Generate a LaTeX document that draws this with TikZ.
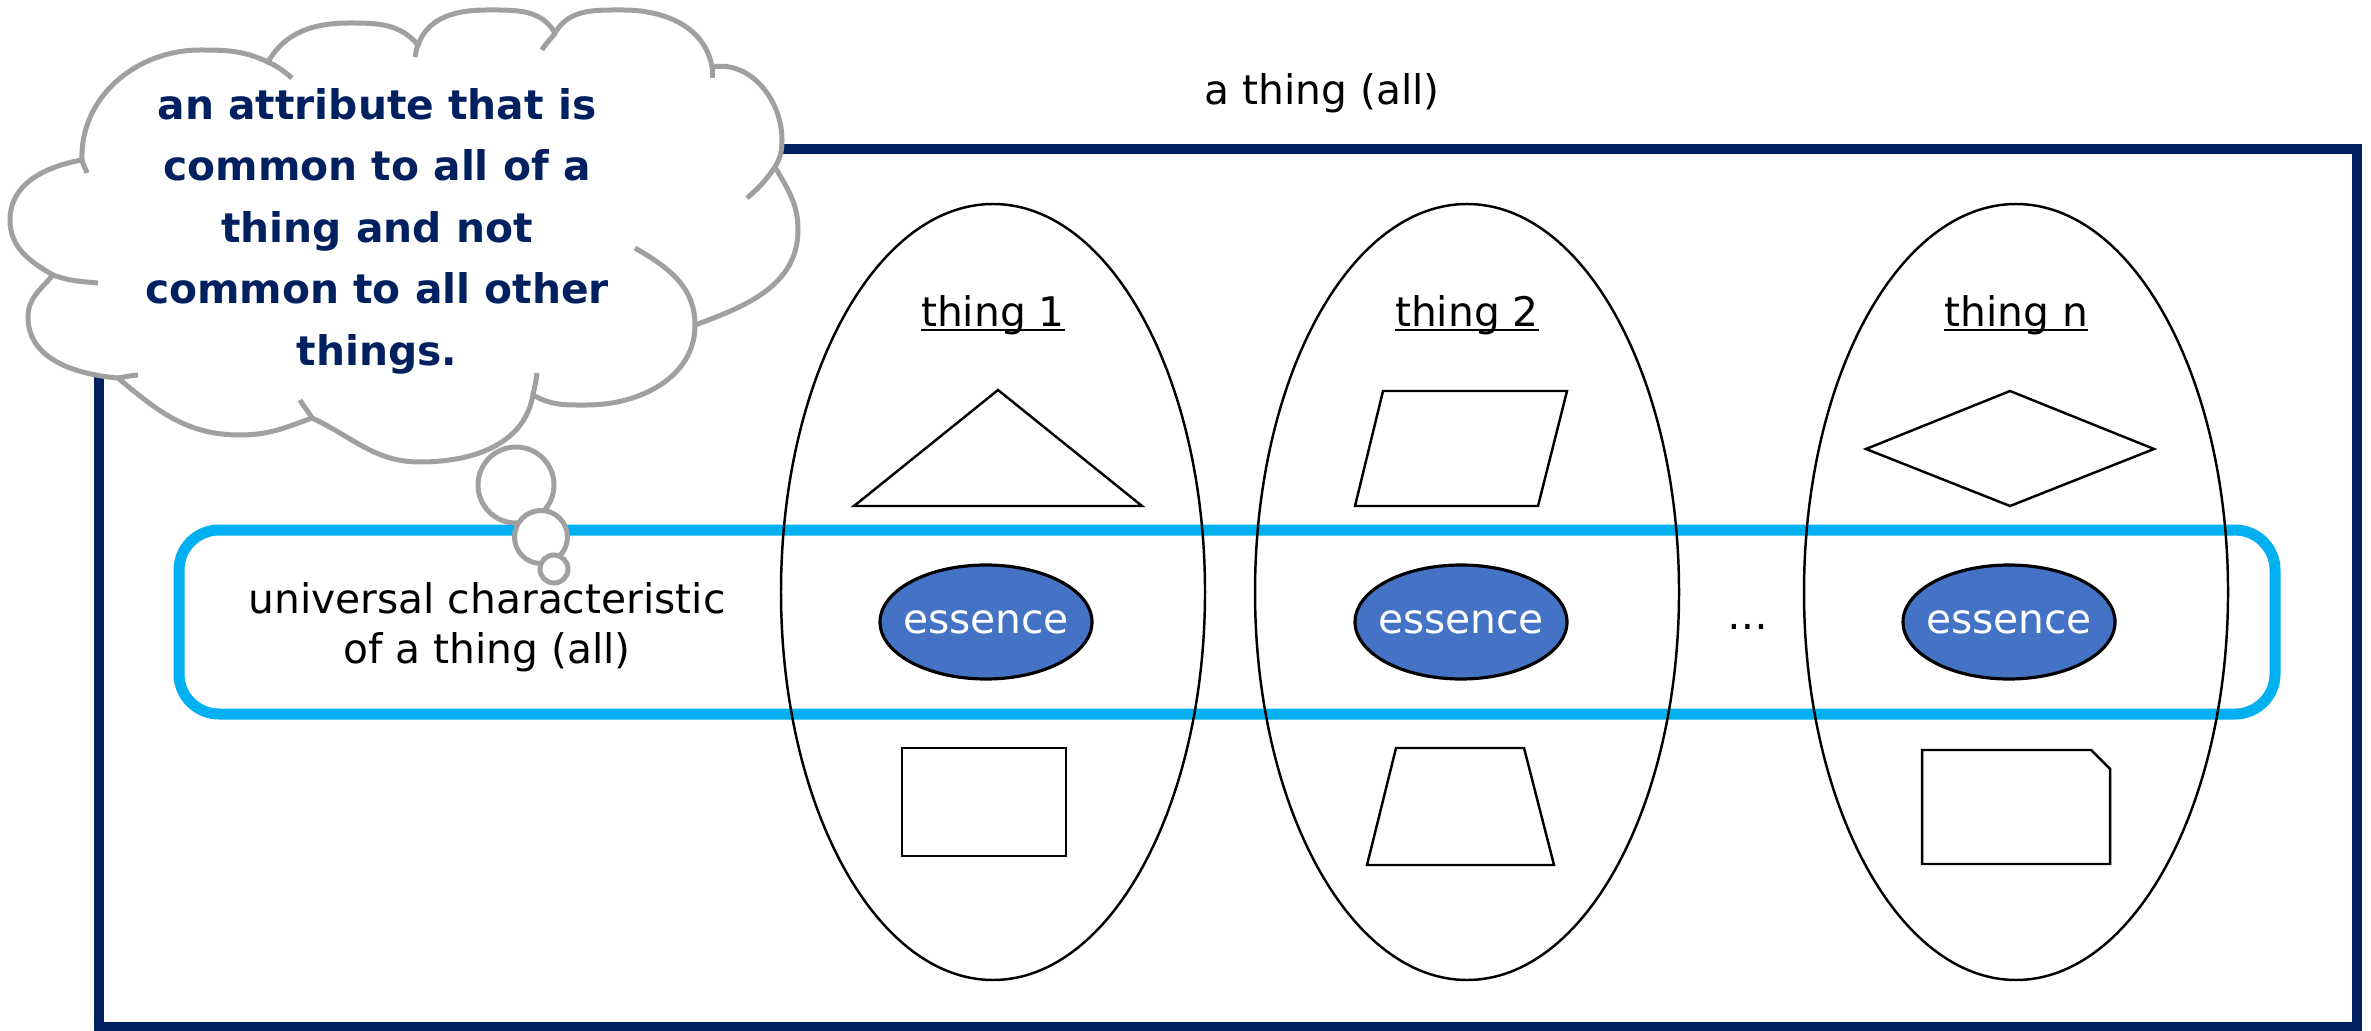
\documentclass[tikz,border=0pt]{standalone}
\usepackage{fontspec}
\setmainfont{DejaVu Sans}
\usetikzlibrary{shapes.geometric}

\definecolor{framenavy}{HTML}{002060}
\definecolor{bandblue}{HTML}{00B0F0}
\definecolor{essblue}{HTML}{4472C4}
\definecolor{cloudgray}{HTML}{A0A0A0}

\newsavebox\ulbox
\newcommand{\ulname}[1]{\sbox\ulbox{#1}\rlap{\rule[-0.1em]{\wd\ulbox}{0.055em}}\usebox\ulbox}

\begin{document}
\begin{tikzpicture}[
    font=\fontsize{11.6}{14.2}\selectfont,
    thing/.style={draw, ellipse, line width=0.7pt, minimum width=4.24cm, minimum height=7.76cm, inner sep=0},
    essence/.style={draw, ellipse, fill=essblue, text=white, line width=0.9pt, minimum width=2.12cm, minimum height=1.14cm, inner xsep=-0.1cm, inner ysep=0},
    figure/.style={draw, line width=0.7pt},
    cloudline/.style={draw=cloudgray, line width=0.05cm},
    bubble/.style={cloudline, fill=white, circle, inner sep=0}
]
    \useasboundingbox (0,0) rectangle (23.71,10.30);

    % Outer frame - a thing (all)
    \draw[framenavy, line width=0.1cm] (0.99,0.035) rectangle (23.57,8.81);
    \node (all) at (13.22,9.37) {a thing (all)};

    % Band - universal characteristic
    \draw[bandblue, line width=0.11cm, rounded corners=0.4cm] (1.79,3.16) rectangle (22.75,5.00);
    \node[align=center] (universal) at (4.87,4.03) {universal characteristic\\of a thing (all)};

    % thing 1
    \begin{scope}[xshift=9.93cm, yshift=4.38cm]
        \node[thing] (thing1) at (0,0) {};
        \node[anchor=base] (lbl1) at (0,2.65) {\ulname{thing 1}};
        \draw[figure] (0.05,2.02) -- (1.49,0.86) -- (-1.39,0.86) -- cycle;
        \node[essence] (ess1) at (-0.07,-0.30) {essence};
        \draw[figure] (-0.91,-1.56) rectangle (0.73,-2.64);
    \end{scope}

    % thing 2
    \begin{scope}[xshift=14.67cm, yshift=4.38cm]
        \node[thing] (thing2) at (0,0) {};
        \node[anchor=base] (lbl2) at (0,2.65) {\ulname{thing 2}};
        \draw[figure] (-0.84,2.01) -- (1.00,2.01) -- (0.71,0.86) -- (-1.12,0.86) -- cycle;
        \node[essence] (ess2) at (-0.06,-0.30) {essence};
        \draw[figure] (-0.71,-1.56) -- (0.57,-1.56) -- (0.87,-2.73) -- (-1.00,-2.73) -- cycle;
    \end{scope}

    \node (dots) at (17.48,4.03) {\dots};

    % thing n
    \begin{scope}[xshift=20.16cm, yshift=4.38cm]
        \node[thing] (thingn) at (0,0) {};
        \node[anchor=base] (lbln) at (0,2.65) {\ulname{thing n}};
        \draw[figure] (-0.06,2.01) -- (1.38,1.43) -- (-0.06,0.86) -- (-1.50,1.43) -- cycle;
        \node[essence] (essn) at (-0.07,-0.30) {essence};
        \draw[figure] (-0.94,-1.58) -- (0.75,-1.58) -- (0.94,-1.77) -- (0.94,-2.72) -- (-0.94,-2.72) -- cycle;
    \end{scope}

    % Thought cloud - outline puff by puff
    \draw[cloudline, fill=white]
        (0.82,8.70) to[out=92,in=180] (2.00,9.80) to[out=0,in=155] (2.68,9.68)
        to[out=60,in=180] (3.50,10.07) to[out=0,in=130] (4.18,9.85)
        to[out=70,in=180] (4.87,10.20) to[out=0,in=120] (5.55,9.97)
        to[out=60,in=180] (6.23,10.20) to[out=0,in=100] (7.12,9.63)
        to[out=10,in=90] (7.82,8.90) to[out=-90,in=60] (7.75,8.63)
        to[out=-60,in=90] (7.98,8.00) to[out=-90,in=20] (6.95,7.05)
        to[out=-90,in=0] (5.87,6.25) to[out=180,in=-30] (5.33,6.35)
        to[out=-100,in=0] (4.20,5.68) to[out=180,in=-25] (3.12,6.12)
        to[out=-160,in=0] (2.40,5.95) to[out=180,in=-40] (1.18,6.52)
        to[out=175,in=-90] (0.28,7.13) to[out=90,in=-130] (0.53,7.55)
        to[out=150,in=-90] (0.10,8.10) to[out=90,in=190] (0.82,8.70) -- cycle;
    % inner curls
    \draw[cloudline] (0.82,8.70) to[out=-80,in=105] (0.87,8.57);
    \draw[cloudline] (2.68,9.68) to[out=-25,in=140] (2.92,9.52);
    \draw[cloudline] (4.18,9.85) to[out=-115,in=75] (4.15,9.73);
    \draw[cloudline] (5.55,9.97) to[out=-125,in=60] (5.42,9.80);
    \draw[cloudline] (7.12,9.63) -- (7.12,9.52);
    \draw[cloudline] (7.75,8.63) to[out=-125,in=40] (7.47,8.32);
    \draw[cloudline] (6.95,7.05) to[out=90,in=-30] (6.35,7.82);
    \draw[cloudline] (5.33,6.35) to[out=80,in=-95] (5.37,6.57);
    \draw[cloudline] (3.12,6.12) to[out=120,in=-60] (3.00,6.30);
    \draw[cloudline] (1.18,6.52) to[out=10,in=185] (1.38,6.55);
    \draw[cloudline] (0.53,7.55) to[out=-20,in=175] (0.98,7.47);

    \node[align=center, text=framenavy, font=\bfseries\fontsize{11.6}{17.5}\selectfont] (idea) at (3.77,7.99)
        {an attribute that is\\common to all of a\\thing and not\\common to all other\\things.};
    \node[bubble, minimum size=0.76cm] (bub1) at (5.16,5.45) {};
    \node[bubble, minimum size=0.53cm] (bub2) at (5.41,4.93) {};
    \node[bubble, minimum size=0.28cm] (bub3) at (5.54,4.61) {};
\end{tikzpicture}
\end{document}
